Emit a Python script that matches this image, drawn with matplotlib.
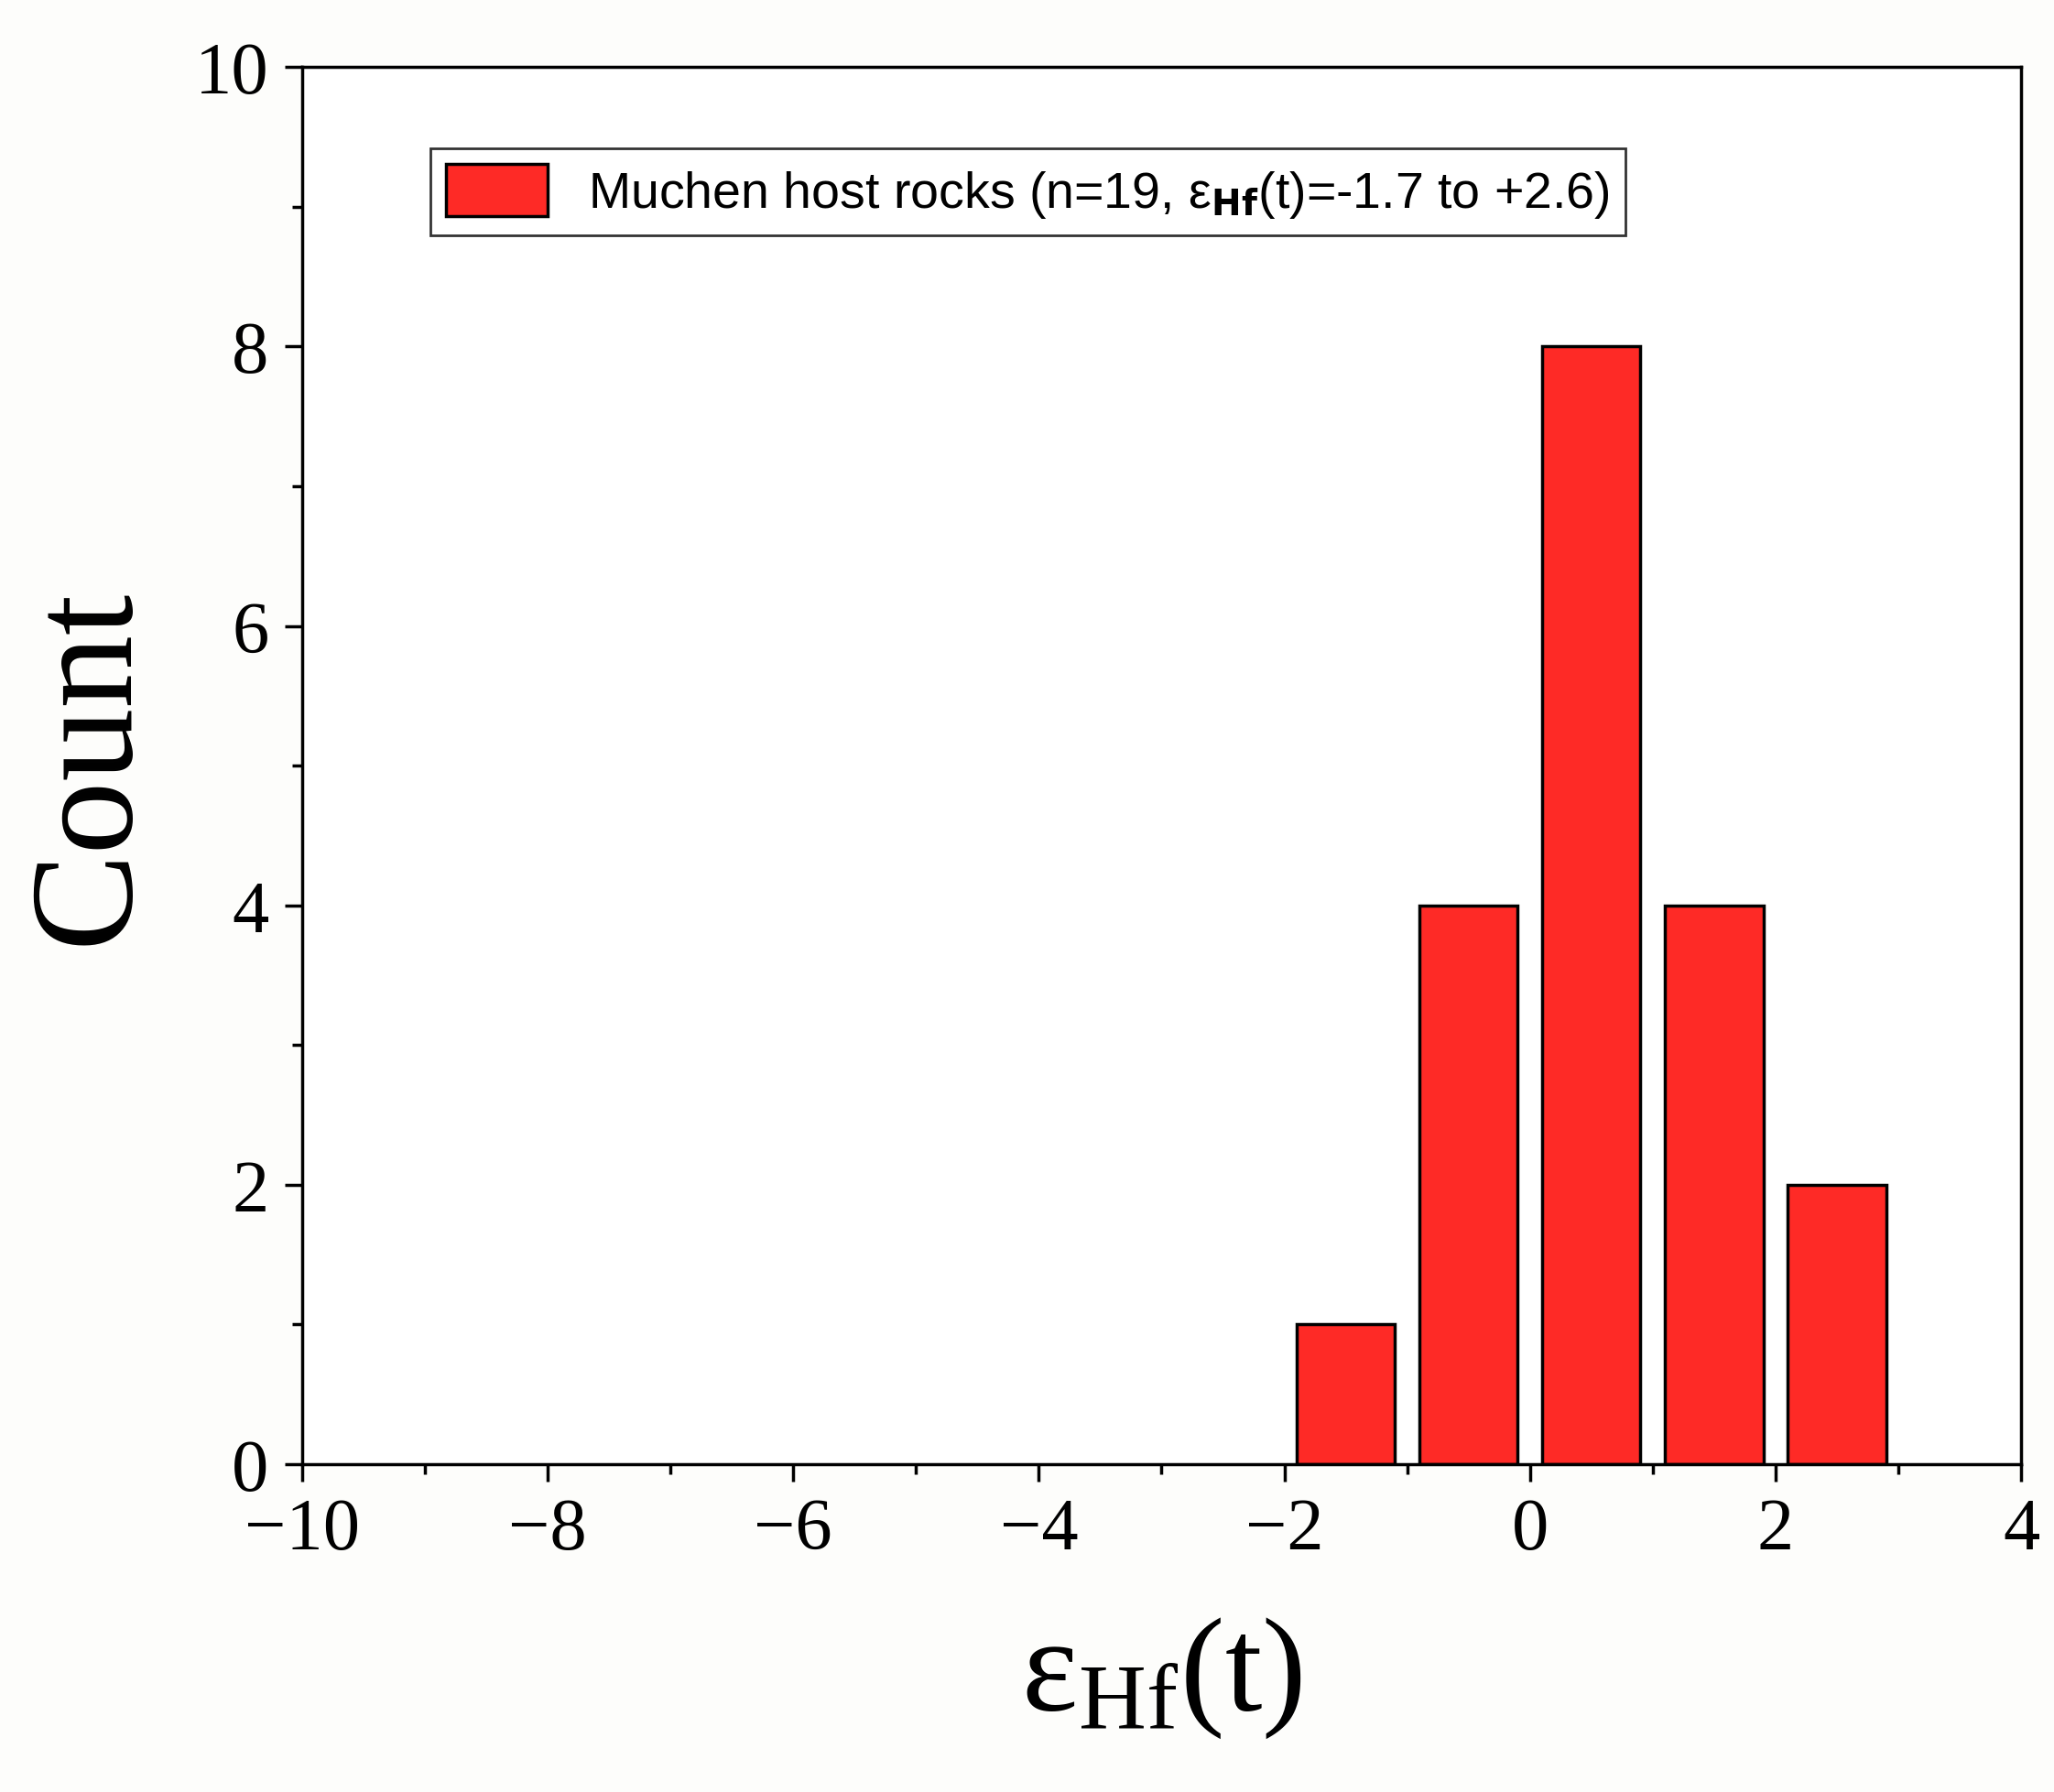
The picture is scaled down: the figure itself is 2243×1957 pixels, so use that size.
import matplotlib
matplotlib.use("Agg")
import matplotlib.pyplot as plt
from matplotlib.ticker import MultipleLocator

# histogram data
bin_centers = [-1.5, -0.5, 0.5, 1.5, 2.5]
counts = [1, 4, 8, 4, 2]

fig = plt.figure(figsize=(22.43, 19.58), dpi=100)
ax = fig.add_axes([0.147, 0.183, 0.837, 0.779])

ax.bar(bin_centers, counts, width=0.8, color="#fe2a26", edgecolor="black", linewidth=2.5,
       label=r"Muchen host rocks (n=19, $\mathregular{\epsilon_{\bf Hf}}$(t)=-1.7 to +2.6)")

ax.set_xlim(-10, 4)
ax.set_ylim(0, 10)
ax.xaxis.set_major_locator(MultipleLocator(2))
ax.xaxis.set_minor_locator(MultipleLocator(1))
ax.yaxis.set_major_locator(MultipleLocator(2))
ax.yaxis.set_minor_locator(MultipleLocator(1))
ax.tick_params(which="both", direction="out", width=2.5, top=False, right=False)
ax.tick_params(which="major", length=14, labelsize=58, pad=12)
ax.tick_params(which="minor", length=8)
for lab in ax.get_xticklabels() + ax.get_yticklabels():
    lab.set_family("Liberation Serif")
for s in ax.spines.values():
    s.set_linewidth(2.5)

ax.set_ylabel("Count", family="Liberation Serif", fontsize=115, labelpad=30)
ax.set_xlabel(r"$\mathregular{\epsilon_{Hf}}$(t)", family="Liberation Serif", fontsize=105, labelpad=40)

leg = ax.legend(loc="upper left", bbox_to_anchor=(0.06, 0.96), fancybox=False, edgecolor="black",
                prop={"family": "Liberation Sans", "size": 40}, handlelength=2.0, handleheight=1.2,
                borderpad=0.3)
leg.get_frame().set_linewidth(2)

fig.savefig("out.png", dpi=100, facecolor="#fdfdfb")
